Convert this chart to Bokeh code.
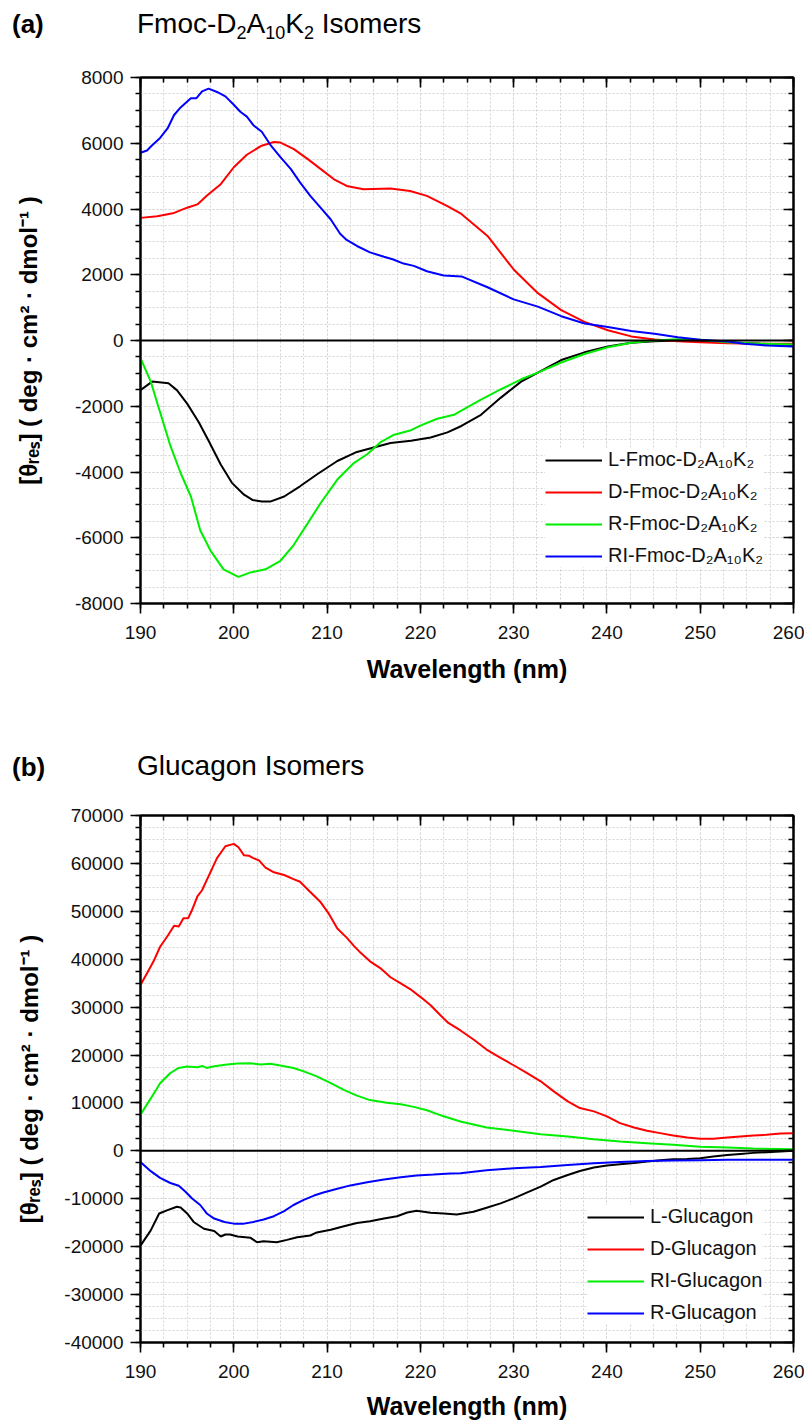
from bokeh.plotting import figure
from bokeh.models import (FixedTicker, LinearAxis, Range1d, Span, Legend,
                          LegendItem, CustomJSTickFormatter, Div)
from bokeh.layouts import column
from bokeh.embed import file_html
from bokeh.resources import INLINE

FONT = "Liberation Sans"

# ---------------- Panel (a) data: Fmoc-D2A10K2 isomers ----------------
la_x = [190, 191.25, 193, 193.9, 195, 196.25, 197.3, 198.6, 199.8, 201.1, 202, 203, 203.9,
        205.4, 207.1, 208.9, 211.1, 213.2, 215, 216.8, 219, 221.1, 222.9, 224.4, 226.5,
        228.6, 230.8, 232.6, 235.1, 237.6, 240.1, 242.6, 245.1, 247.6, 250, 252.9, 256.5, 260]
la_y = [-1510, -1250, -1300, -1510, -1920, -2485, -3050, -3770, -4330, -4690, -4850, -4900,
        -4900, -4745, -4435, -4075, -3665, -3390, -3255, -3120, -3050, -2950, -2795, -2600,
        -2260, -1745, -1250, -975, -595, -360, -185, -70, -20, 0, -20, -50, -100, -135]

da_x = [190, 191.8, 193.6, 195, 196.1, 197.1, 198.6, 200, 201.4, 202.9, 204.3, 205, 206.4,
        207.9, 209.3, 210.7, 212.1, 213.9, 216.8, 218.9, 220.7, 222.9, 224.4, 227.2, 230,
        232.6, 235.1, 237.6, 240.1, 242.6, 245.1, 247.6, 250, 252.9, 256.5, 260]
da_y = [3730, 3780, 3880, 4040, 4140, 4400, 4755, 5270, 5650, 5915, 6040, 6020, 5830, 5525,
        5220, 4910, 4700, 4600, 4620, 4550, 4400, 4090, 3850, 3180, 2160, 1440, 925, 565,
        310, 125, 30, -20, -50, -80, -100, -100]

ra_x = [190, 191.1, 192.1, 193.2, 194.3, 195.4, 196.4, 197.5, 198.9, 200.5, 201.8, 203.4,
        205, 206.4, 207.9, 209.3, 211.1, 212.9, 214.3, 215.7, 217.1, 218.9, 220, 221.8,
        223.6, 224.4, 226.5, 228.6, 230.8, 232.6, 235.1, 237.6, 240.1, 242.6, 245.1, 247.6,
        250, 252.9, 256.5, 260]
ra_y = [-535, -1250, -2180, -3200, -4030, -4745, -5770, -6390, -6960, -7190, -7055, -6960,
        -6700, -6230, -5570, -4950, -4230, -3720, -3460, -3100, -2875, -2740, -2590, -2380,
        -2260, -2135, -1800, -1490, -1180, -975, -670, -410, -205, -70, 0, 40, 20, -50,
        -100, -120]

ria_x = [190, 190.7, 191.25, 192.1, 192.9, 193.6, 194.3, 195.4, 196, 196.6, 197.3, 198.2,
         199.1, 200, 200.7, 201.4, 202.1, 203, 203.9, 205, 206.1, 207.1, 208.2, 209.3,
         210.4, 211.4, 212.1, 213.2, 214.6, 216.1, 217.1, 218.2, 219.3, 220.7, 222.5,
         224.4, 227.2, 230, 232.6, 235.1, 237.6, 240.1, 242.6, 245.1, 247.6, 250, 252.9,
         254.7, 257.2, 260]
ria_y = [5710, 5780, 5940, 6160, 6450, 6860, 7090, 7370, 7370, 7580, 7660, 7560, 7425, 7170,
         6960, 6810, 6550, 6350, 5960, 5580, 5220, 4810, 4400, 4040, 3680, 3245, 3060, 2875,
         2680, 2550, 2465, 2340, 2270, 2105, 1980, 1950, 1620, 1250, 1030, 740, 515, 410,
         290, 205, 100, 20, -30, -100, -155, -185]

# ---------------- Panel (b) data: Glucagon isomers ----------------
lb_x = [190, 191.1, 192, 192.9, 193.9, 194.3, 195, 195.7, 196.8, 197.9, 198.6, 199.1, 199.6,
        200.4, 201.8, 202.5, 203.2, 204.6, 205.7, 206.8, 208.2, 208.9, 210.4, 211.8, 213.2,
        214.6, 216.1, 217.5, 218.6, 219.6, 221.1, 222.5, 223.9, 225.7, 227.1, 228.6, 230,
        231.4, 232.9, 234.3, 235.8, 237.1, 238.6, 240, 241.4, 242.9, 244.3, 245.7, 247.1,
        248.6, 250, 251.4, 252.9, 254.3, 255.7, 257.1, 258.6, 260]
lb_y = [-19780, -16600, -13070, -12360, -11660, -11800, -13070, -14840, -16250, -16740,
        -17870, -17450, -17450, -17870, -18160, -19080, -18860, -19080, -18580, -18020,
        -17660, -17030, -16460, -15750, -15050, -14700, -14130, -13640, -12860, -12510,
        -12930, -13070, -13280, -12700, -11870, -10960, -9910, -8730, -7470, -6070, -5030,
        -4190, -3490, -3070, -2790, -2510, -2230, -1950, -1750, -1680, -1540, -1190, -840,
        -630, -420, -280, -140, 0]

db_x = [190, 190.7, 191.4, 192.1, 192.9, 193.6, 194.1, 194.6, 195.1, 195.5, 196.1, 196.6,
        197.1, 197.7, 198.2, 199.1, 200, 200.5, 201.1, 201.6, 202.1, 202.7, 203.4, 204.3,
        205.4, 206.4, 207.1, 208.2, 209.3, 210.2, 211.1, 212.1, 212.9, 213.6, 214.6, 215.7,
        216.8, 217.9, 218.9, 220, 221.1, 222.1, 223, 224.3, 225.7, 227.1, 228.6, 230, 231.4,
        232.9, 234.3, 235.8, 237.1, 238.6, 240, 241.4, 242.9, 244.3, 245.7, 247.1, 248.6,
        250, 251.4, 252.9, 254.3, 255.7, 257.1, 258.6, 260]
db_y = [34620, 37090, 39560, 42600, 44860, 46980, 46840, 48540, 48540, 50160, 53130, 54400,
        56520, 59000, 61110, 63580, 64080, 63370, 61680, 61610, 61110, 60620, 59130, 58150,
        57580, 56730, 56170, 54050, 51930, 49460, 46420, 44510, 42740, 41330, 39560, 38150,
        36240, 34970, 33770, 32150, 30380, 28400, 26700, 25130, 23240, 21150, 19400, 17870,
        16260, 14520, 12420, 10330, 8930, 8240, 7190, 5790, 4890, 4190, 3700, 3210, 2790,
        2510, 2510, 2790, 3000, 3210, 3350, 3630, 3700]

rib_x = [190, 191.1, 192.1, 193.2, 194.1, 195, 196.1, 196.6, 197.1, 197.9, 199.3, 200.4,
         201.8, 202.9, 203.9, 205, 206.4, 207.5, 208.9, 210.4, 211.8, 213.2, 214.6, 216.4,
         217.9, 219.3, 220.7, 222.5, 224.3, 227.1, 230, 232.9, 235.8, 238.6, 241.4, 244.3,
         247.1, 250, 252.9, 255.7, 260]
rib_y = [7560, 10950, 14130, 16250, 17310, 17590, 17450, 17730, 17310, 17660, 18020, 18230,
         18300, 18020, 18160, 17800, 17310, 16600, 15540, 14130, 12720, 11520, 10600, 10030,
         9750, 9180, 8480, 7210, 6140, 4890, 4190, 3490, 3000, 2440, 1950, 1610, 1260, 840,
         700, 490, 350]

rb_x = [190, 191.1, 192.1, 193.2, 194.1, 194.8, 195.5, 196.4, 197.1, 197.9, 199, 200, 201.1,
        202.1, 203.2, 204.3, 205.4, 206.4, 207.5, 208.6, 209.6, 211.1, 212.5, 214.3, 216.1,
        217.9, 219.6, 221.4, 223.2, 224.3, 227.1, 230, 232.9, 235.8, 238.6, 241.4, 244.3,
        247.1, 250, 252.9, 255.7, 260]
rb_y = [-2330, -4240, -5650, -6710, -7280, -8480, -9890, -11300, -13070, -14130, -14840,
        -15190, -15190, -14840, -14340, -13640, -12580, -11300, -10240, -9330, -8690, -7910,
        -7210, -6570, -6000, -5510, -5160, -4950, -4730, -4680, -4050, -3630, -3350, -2930,
        -2580, -2300, -2090, -2020, -1950, -1880, -1880, -1880]

# ---------------- Ticks and labels ----------------
x_major = [190, 200, 210, 220, 230, 240, 250, 260]
x_minor = [190 + 2.5 * i for i in range(29)]
ya_major = [-8000, -6000, -4000, -2000, 0, 2000, 4000, 6000, 8000]
ya_minor = [-8000 + 500 * i for i in range(33)]
yb_major = [-40000, -30000, -20000, -10000, 0, 10000, 20000, 30000, 40000, 50000, 60000, 70000]
yb_minor = [-40000 + 2500 * i for i in range(45)]

tag_a = "(a)"
tag_b = "(b)"
title_a_html = ("Fmoc-D<span class='sb'>2</span>A<span class='sb'>10</span>"
                "K<span class='sb'>2</span> Isomers")
title_b_html = "Glucagon Isomers"
labels_a = ["L-Fmoc-D\u2082A\u2081\u2080K\u2082", "D-Fmoc-D\u2082A\u2081\u2080K\u2082",
            "R-Fmoc-D\u2082A\u2081\u2080K\u2082", "RI-Fmoc-D\u2082A\u2081\u2080K\u2082"]
labels_b = ["L-Glucagon", "D-Glucagon", "RI-Glucagon", "R-Glucagon"]
colors = ["#000000", "#ff0000", "#00ee00", "#0000ff"]
x_label = "Wavelength (nm)"
y_label = "[\u03b8\u1d63\u2091\u209b] ( deg \u00b7 cm\u00b2 \u00b7 dmol\u207b\u00b9 )"

W = 804


def header(tag, title_html, top_tag, top_title):
    html = (
        "<div style=\"position:relative;width:%dpx;height:50px;"
        "font-family:'Liberation Sans',Arial,sans-serif;color:#000;\">"
        "<style>.sb{font-size:18px;position:relative;top:6px;}</style>"
        "<span style='position:absolute;left:12px;top:%dpx;font-size:26px;"
        "font-weight:bold;line-height:32px;white-space:nowrap;'>%s</span>"
        "<span style='position:absolute;left:137px;top:%dpx;font-size:28px;"
        "line-height:36px;white-space:nowrap;'>%s</span></div>"
    ) % (W, top_tag, tag, top_title, title_html)
    return Div(text=html, width=W, height=50, margin=0)


def style_axis(ax, outer=True):
    ax.axis_line_width = 2
    ax.axis_line_color = "black"
    ax.major_tick_line_width = 1.6
    ax.minor_tick_line_width = 1.6
    ax.major_tick_line_color = "black"
    ax.minor_tick_line_color = "black"
    if outer:
        ax.major_tick_out = 10
        ax.major_tick_in = 0
        ax.minor_tick_out = 5
        ax.minor_tick_in = 0
    else:
        ax.major_tick_out = 0
        ax.major_tick_in = 10
        ax.minor_tick_out = 0
        ax.minor_tick_in = 5
        ax.major_label_standoff = 0
        ax.formatter = CustomJSTickFormatter(code="return '';")
    ax.major_label_text_font = FONT
    ax.major_label_text_font_size = "19px"
    ax.major_label_text_color = "#111111"
    ax.axis_label_text_font = FONT
    ax.axis_label_text_font_style = "bold"
    ax.axis_label_text_color = "black"


def make_panel(height, btop, bbottom, yrange, ymaj, ymin, series, labels, leg_loc,
               ylab_standoff, xlab_standoff):
    p = figure(width=W, height=height, x_range=Range1d(190, 260),
               y_range=Range1d(*yrange), output_backend="svg", toolbar_location=None,
               min_border_left=140, min_border_right=11, min_border_top=btop,
               min_border_bottom=bbottom, margin=0)
    p.background_fill_color = "white"
    p.border_fill_color = "white"
    p.outline_line_color = "black"
    p.outline_line_width = 2

    xt = FixedTicker(ticks=x_major, minor_ticks=x_minor)
    yt = FixedTicker(ticks=ymaj, minor_ticks=ymin)
    p.xaxis.ticker = xt
    p.yaxis.ticker = yt
    p.xgrid.ticker = xt
    p.ygrid.ticker = yt
    p.yaxis.major_label_overrides = {v: str(v) for v in ymaj}
    p.xaxis.major_label_overrides = {v: str(v) for v in x_major}
    for g in (p.xgrid, p.ygrid):
        g.grid_line_color = "#d4d4d4"
        g.grid_line_dash = "2 2"
        g.grid_line_width = 1
        g.minor_grid_line_color = "#d4d4d4"
        g.minor_grid_line_dash = "2 2"
        g.minor_grid_line_width = 1

    for ax in p.xaxis + p.yaxis:
        style_axis(ax, True)
    p.xaxis.axis_label = x_label
    p.xaxis.axis_label_text_font_size = "25px"
    p.xaxis.axis_label_standoff = xlab_standoff
    p.xaxis.major_label_standoff = 12
    p.yaxis.axis_label = y_label
    p.yaxis.axis_label_text_font_size = "24px"
    p.yaxis.axis_label_standoff = ylab_standoff
    p.yaxis.major_label_standoff = 7

    top = LinearAxis(ticker=xt)
    style_axis(top, False)
    right = LinearAxis(ticker=yt)
    style_axis(right, False)
    p.add_layout(top, "above")
    p.add_layout(right, "right")

    p.add_layout(Span(location=0, dimension="width", line_color="black", line_width=2))

    items = []
    for (xs, ys), lab, col in zip(series, labels, colors):
        r = p.line(xs, ys, line_color=col, line_width=2)
        items.append(LegendItem(label=lab, renderers=[r]))
    leg = Legend(items=items, location=leg_loc)
    leg.label_text_font = FONT
    leg.label_text_font_size = "20px"
    leg.label_text_color = "#111111"
    leg.glyph_width = 57
    leg.glyph_height = 20
    leg.label_height = 20
    leg.label_standoff = 6
    leg.spacing = 9
    leg.padding = 10
    leg.margin = 0
    leg.border_line_color = None
    leg.background_fill_color = "white"
    leg.background_fill_alpha = 1
    p.add_layout(leg)
    return p


head_a = header(tag_a, title_a_html, 8, 6)
pa = make_panel(690, 27, 137, (-8000, 8000), ya_major, ya_minor,
                [(la_x, la_y), (da_x, da_y), (ra_x, ra_y), (ria_x, ria_y)], labels_a,
                (405, 36), 30, 13)
head_b = header(tag_b, title_b_html, 11, 8)
pb = make_panel(632, 25, 80, (-40000, 70000), yb_major, yb_minor,
                [(lb_x, lb_y), (db_x, db_y), (rib_x, rib_y), (rb_x, rb_y)], labels_b,
                (447, 18), 18, 11)

layout = column(head_a, pa, head_b, pb, spacing=0)
open("out.html", "w").write(file_html(layout, INLINE))
